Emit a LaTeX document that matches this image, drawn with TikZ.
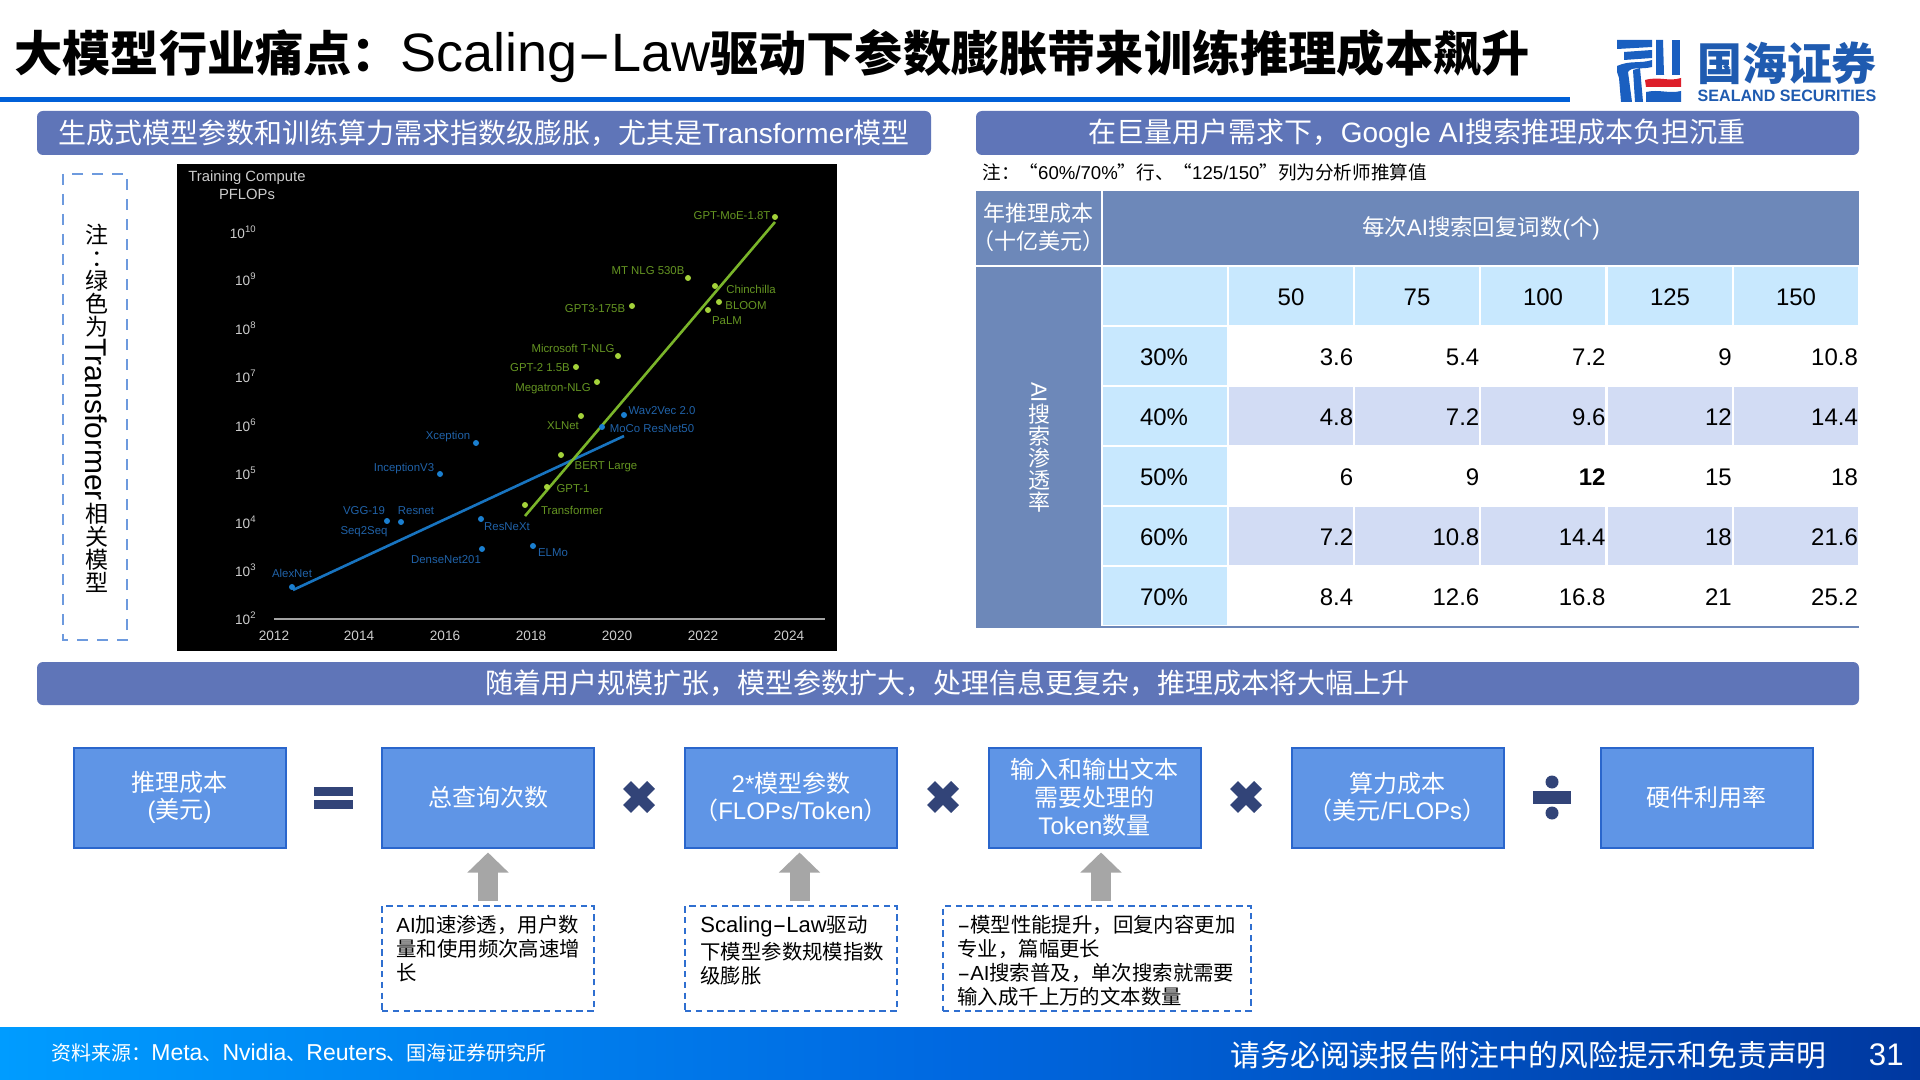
\documentclass[tikz,border=0pt]{standalone}
\usepackage{fontspec}
\usepackage{graphicx}
\usetikzlibrary{arrows.meta}
\setmainfont{Liberation Sans}
\newfontfamily\cjk{Noto Sans CJK SC}
\newcommand\C[1]{{\cjk #1}}
\newcommand\fsz[1]{\fontsize{#1}{#1}\selectfont}
\newcommand\wdash{\scalebox{1.9}[1]{-}}
\definecolor{barcol}{HTML}{5F75B8}
\definecolor{hdrcol}{HTML}{6D88B9}
\definecolor{skycol}{HTML}{C8E8FE}
\definecolor{altcol}{HTML}{D2DCF4}
\definecolor{boxfill}{HTML}{5F95E6}
\definecolor{boxline}{HTML}{2A66CC}
\definecolor{opcol}{HTML}{324478}
\definecolor{arrowcol}{HTML}{A6A6A6}
\definecolor{dashcol}{HTML}{2F6FD0}
\definecolor{lineblue}{HTML}{0060D8}
\definecolor{glabel}{HTML}{659522}
\definecolor{gdot}{HTML}{A4D23A}
\definecolor{gline}{HTML}{7AB52A}
\definecolor{blabel}{HTML}{2062A8}
\definecolor{bdot}{HTML}{1A7FD0}
\definecolor{bline}{HTML}{1874C0}
\definecolor{axiscol}{HTML}{CCCCCC}
\definecolor{logoblue}{HTML}{1A5FC0}
\definecolor{logotext}{HTML}{1F5BB0}
\definecolor{logored}{HTML}{DD1F2B}
\definecolor{footA}{HTML}{009CFF}
\definecolor{footB}{HTML}{0068E0}
\definecolor{footC}{HTML}{0038A0}
\tikzset{
  headbar/.style={fill=barcol,rounded corners=3pt,draw=none,inner sep=0,text=white,font=\fsz{14}},
  eqbox/.style={fill=boxfill,draw=boxline,line width=1pt,inner sep=0,minimum width=106pt,minimum height=50pt,text=white,font=\fsz{12},align=center},
  notebox/.style={draw=dashcol,line width=1pt,dash pattern=on 3.2pt off 2.2pt,inner sep=0,minimum height=52.5pt},
  notetext/.style={anchor=north west,inner sep=0,align=left,font=\fsz{10.2},text=black},
  bigarrow/.style={line width=10pt,draw=arrowcol,-{Triangle[length=10pt,width=20pt]},shorten >=2pt,shorten <=2pt},
  axl/.style={text=axiscol,inner sep=0,font=\fsz{6.8}},
  gl/.style={text=glabel,inner sep=0,font=\fsz{5.7}},
  bl/.style={text=blabel,inner sep=0,font=\fsz{5.7}},
  gd/.style={circle,fill=gdot,inner sep=0,minimum size=3pt},
  bd/.style={circle,fill=bdot,inner sep=0,minimum size=3pt},
  tnum/.style={inner sep=0,font=\fsz{12},text=black},
  thead/.style={inner sep=0,font=\fsz{11.2},text=white,align=center},
  foot/.style={inner sep=0,text=white},
  opx/.style={line width=5.6pt,draw=opcol},
  opf/.style={fill=opcol,draw=none},
}
\begin{document}
\begin{tikzpicture}[x=0.5pt,y=-0.5pt]
\useasboundingbox (0,0) rectangle (1920,1080);
\fill[white] (0,0) rectangle (1920,1080);

% title
\node[anchor=west,inner sep=0,text=black] (title) at (14,56) {\fsz{24.1}\C{\bfseries 大模型行业痛点：}{\fsz{27}Scaling\wdash Law}\C{\bfseries 驱动下参数膨胀带来训练推理成本飙升}};
\fill[lineblue] (0,97) rectangle (1570,102);

% logo
\fill[logoblue] (1617,40) -- (1652,40) -- (1652,47) -- (1617,49) -- cycle;
\fill[logoblue] (1624,52) -- (1652,50) -- (1652,58) -- (1624,60) -- cycle;
\fill[logoblue] (1617,66) .. controls (1630,60) and (1640,64) .. (1652,60) -- (1652,67) .. controls (1640,70) and (1632,66) .. (1628,72) -- (1632,102) -- (1621,102) -- (1619,78) -- (1617,72) -- cycle;
\fill[logoblue] (1633,70) -- (1640,68) -- (1643,102) -- (1635,102) -- cycle;
\fill[logoblue] (1656,40) -- (1663,40) -- (1664,75) -- (1656,75) -- cycle;
\fill[logoblue] (1672,40) -- (1680,40) -- (1680,75) -- (1672,75) -- cycle;
\fill[logored] (1645,80) .. controls (1660,76) and (1668,82) .. (1681,78) -- (1681,87) -- (1646,87) -- cycle;
\fill[logoblue] (1646,92) .. controls (1660,89) and (1668,94) .. (1681,91) -- (1681,102) -- (1646,102) -- cycle;
\node[inner sep=0,text=logotext] (logocn) at (1787,63) {\fsz{22.4}\C{\bfseries 国海证券}};
\node[inner sep=0,text=logotext,xscale=.98] (logoen) at (1787,96) {\fsz{8.2}\bfseries SEALAND SECURITIES};

% header bars
\path[headbar] (37,111) rectangle (931,155);
\node[inner sep=0,text=white] (hleft) at (484,133) {\fsz{14}\C{生成式模型参数和训练算力需求指数级膨胀，尤其是}Transformer\C{模型}};
\path[headbar] (976,111) rectangle (1859,155);
\node[inner sep=0,text=white] (hright) at (1417,134) {\fsz{14}\C{在巨量用户需求下，}Google AI\C{搜索推理成本负担沉重}};
\path[headbar] (37,662) rectangle (1859,705);
\node[inner sep=0,text=white] (hmid) at (947,683) {\fsz{14}\C{随着用户规模扩张，模型参数扩大，处理信息更复杂，推理成本将大幅上升}};

% vertical note
\draw[draw=dashcol!70!white,line width=1.2pt,dash pattern=on 5.5pt off 4.5pt] (63,174) rectangle (127,640);
\node[inner sep=0,align=center,font=\fsz{11.5}] (vnote) at (96.5,408) {\C{注}\\\hspace*{.6em}\C{：}\\\C{绿}\\\C{色}\\\C{为}\\\rotatebox[origin=c]{-90}{\fsz{15}Transformer}\\\C{相}\\\C{关}\\\C{模}\\\C{型}};

% chart
\fill[black] (177,164) rectangle (837,651);
\node[inner sep=0,text=axiscol,align=center,font=\fsz{7.4}] (ctitle) at (247,185.5) {Training Compute\\[1.4pt]PFLOPs};
\foreach \e/\yy in {10/232,9/279,8/328,7/376,6/425,5/473,4/522,3/570,2/618}
  \node[axl,anchor=east] (ylab\e) at (257,\yy) {10$^{\mathrm{\e}}$};
\draw[draw=axiscol!80!black,line width=.8pt] (274,619) -- (825,619);
\foreach \yr/\xx in {2012/274,2014/359,2016/445,2018/531,2020/617,2022/703,2024/789}
  \node[axl] (yr\yr) at (\xx,636) {\yr};
\coordinate (bs) at (293,590); \coordinate (be) at (624,436);
\coordinate (gs) at (525,516); \coordinate (ge) at (775,222);
\draw[bline,line width=1.3pt] (bs) -- (be);
\draw[gline,line width=1.3pt] (gs) -- (ge);
% blue points
\foreach \n/\px/\py/\lx/\ly/\t in {a/292/587/292/573/AlexNet,b/387/521/364/511/VGG-19,c/401/522/416/511/Resnet,e/440/474/404/469/InceptionV3,f/476/443/448/437/Xception,g/481/519/507/527/ResNeXt,h/482/549/446/560/DenseNet201,i/533/546/553/553/ELMo,j/624/415/662/411/Wav2Vec 2.0,k/602/427/652/429/MoCo ResNet50}{
  \node[bd] (bp\n) at (\px,\py) {};
  \node[bl] (bt\n) at (\lx,\ly) {\t};
}
\node[bl] (btd) at (364,532) {Seq2Seq};
% green points
\foreach \n/\px/\py/\lx/\ly/\t in {a/525/505/572/510/Transformer,b/547/487/573/489/GPT-1,c/561/455/606/467/BERT Large,d/581/416/563/426/XLNet,e/597/382/553/389/Megatron-NLG,f/576/367/540/368/GPT-2 1.5B,g/618/356/573/348/Microsoft T-NLG,h/632/306/595/309/GPT3-175B,i/688/278/648/271/MT NLG 530B,j/715/286/751/289/Chinchilla,k/719/302/746/306/BLOOM,l/708/310/727/321/PaLM,m/775/217/732/216/GPT-MoE-1.8T}{
  \node[gd] (gp\n) at (\px,\py) {};
  \node[gl] (gt\n) at (\lx,\ly) {\t};
}

% table note
\node[anchor=west,inner sep=0,text=black] (tnote) at (982,172) {\fsz{9.3}\C{注：“}60\%/70\%\C{”行、“}125/150\C{”列为分析师推算值}};

% table
\fill[hdrcol] (976,191) rectangle (1101,265);
\fill[hdrcol] (1103,191) rectangle (1859,265);
\fill[hdrcol] (976,267) rectangle (1101,627);
\node[thead,font=\fsz{11}] (tcorner) at (1038,227.5) {\C{年推理成本}\\[3pt]\C{（十亿美元）}};
\node[thead] (ttop) at (1481,228) {\C{每次}AI\C{搜索回复词数}(\C{个})};
\node[thead,font=\fsz{11},text=white] (tside) at (1039,447) {\rotatebox[origin=c]{-90}{AI}\\\C{搜}\\\C{索}\\\C{渗}\\\C{透}\\\C{率}};
% first row / first column cells
\fill[skycol] (1103,267) rectangle (1227,325);
\foreach \col/\cx/\lab in {0/1291/50,1/1417/75,2/1543/100,3/1670/125,4/1796/150}{
  \fill[skycol] ({1229+126.2*\col},267) rectangle ({1353+126.2*\col},325);
  \node[tnum] (c\lab) at (\cx,297) {\lab};
}
\foreach \pc/\yt/\shade/\vals in {
  30/327/white/{3.6,5.4,7.2,9,10.8},
  40/387/altcol/{4.8,7.2,9.6,12,14.4},
  50/447/white/{6,9,{\bfseries 12},15,18},
  60/507/altcol/{7.2,10.8,14.4,18,21.6},
  70/567/white/{8.4,12.6,16.8,21,25.2}}{
  \fill[skycol] (1103,\yt) rectangle (1227,\yt+58);
  \node[tnum] (r\pc) at (1164,\yt+30) {\pc\%};
  \foreach \v [count=\i from 0] in \vals {
    \fill[\shade] ({1229+126.2*\i},\yt) rectangle ({1353+126.2*\i},\yt+58);
    \node[tnum,anchor=east] (v\pc-\i) at ({1353.5+126.2*\i},\yt+30) {\v};
  }
}
\draw[hdrcol,line width=.8pt] (976,627) -- (1859,627);

% equation boxes
\node[eqbox] (b1) at (179.5,797.5) {\C{推理成本}\\[1.5pt](\C{美元})};
\node[eqbox] (b2) at (488,797.5) {\C{总查询次数}};
\node[eqbox] (b3) at (791,797.5) {2*\C{模型参数}\\[1.5pt]\C{（}FLOPs/Token\C{）}};
\node[eqbox] (b4) at (1094.5,797.5) {\C{输入和输出文本}\\[2pt]\C{需要处理的}\\[2pt]Token\C{数量}};
\node[eqbox] (b5) at (1397.5,797.5) {\C{算力成本}\\[1.5pt]\C{（美元}/FLOPs\C{）}};
\node[eqbox] (b6) at (1706.5,797.5) {\C{硬件利用率}};

% operators
\fill[opf] (314,787) rectangle (353,796);
\fill[opf] (314,800) rectangle (353,809);
\foreach \xx in {639,943,1246}{
  \draw[opx] (\xx-12,785) -- (\xx+12,809);
  \draw[opx] (\xx+12,785) -- (\xx-12,809);
}
\fill[opf] (1533,791) rectangle (1571,804);
\fill[opf] (1552,782) circle [x radius=6.5,y radius=6.5];
\fill[opf] (1552,813) circle [x radius=6.5,y radius=6.5];

% note boxes
\node[notebox,minimum width=106pt] (n1) at (488,958.5) {};
\node[notebox,minimum width=106pt] (n2) at (791,958.5) {};
\node[notebox,minimum width=154pt] (n3) at (1097,958.5) {};
\node[notetext] (t1) at (396,915) {AI\C{加速渗透，用户数}\\[1.7pt]\C{量和使用频次高速增}\\[1.7pt]\C{长}};
\node[notetext] (t2) at (700,915) {{\fsz{11}Scaling\wdash Law}\C{驱动}\\[1.7pt]\C{下模型参数规模指数}\\[1.7pt]\C{级膨胀}};
\node[notetext] (t3) at (957,915) {\wdash\C{模型性能提升，回复内容更加}\\[1.7pt]\C{专业，篇幅更长}\\[1.7pt]\wdash AI\C{搜索普及，单次搜索就需要}\\[1.7pt]\C{输入成千上万的文本数量}};

% block arrows
\draw[bigarrow] (n1.north) -- (b2.south);
\draw[bigarrow] ([xshift=4.25pt]n2.north) -- ([xshift=4.25pt]b3.south);
\draw[bigarrow] ([xshift=3.25pt]n3.north -| b4.south) -- ([xshift=3.25pt]b4.south);

% footer
\shade[left color=footA,right color=footC,middle color=footB] (0,1027) rectangle (1920,1080);
\node[foot,anchor=west,font=\fsz{11.5}] (fleft) at (51,1053) {\fsz{10}\C{资料来源：}{\fsz{11.5}Meta}\C{、}{\fsz{11.5}Nvidia}\C{、}{\fsz{11.5}Reuters}\C{、国海证券研究所}};
\node[foot,anchor=east] (fright) at (1827,1055) {\fsz{14.9}\C{请务必阅读报告附注中的风险提示和免责声明}};
\node[foot,anchor=east] (pg) at (1904,1055) {\fsz{15.6}31};
\end{tikzpicture}
\end{document}
